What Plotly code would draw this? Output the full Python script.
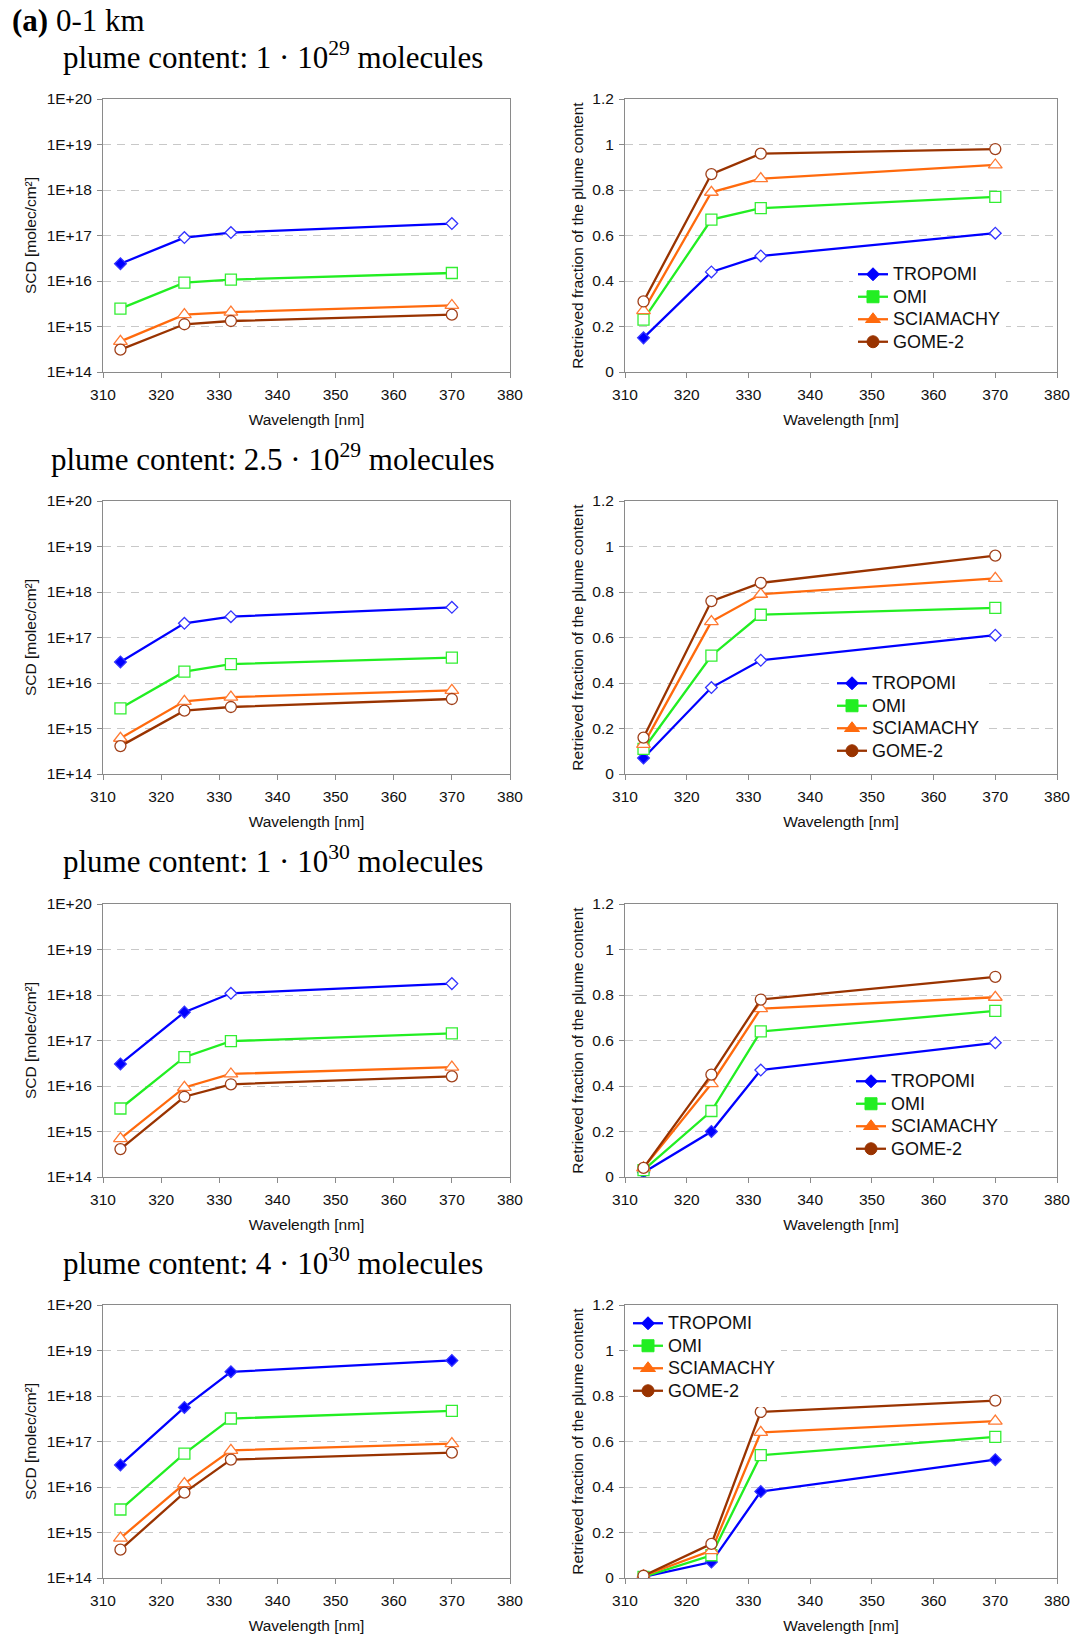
import plotly.graph_objects as go

W, H = 1076, 1638

wavelength = [313, 324, 332, 370]
series = ["TROPOMI", "OMI", "SCIAMACHY", "GOME-2"]
colors = {"TROPOMI": "#0000FF", "OMI": "#22EE22", "SCIAMACHY": "#FF6A0D", "GOME-2": "#993300"}
outline = {"TROPOMI": "#3333FF", "OMI": "#33EE33", "SCIAMACHY": "#FF7A33", "GOME-2": "#A0401A"}
symbols = {"TROPOMI": "diamond", "OMI": "square", "SCIAMACHY": "triangle-up", "GOME-2": "circle"}
sizes = {"TROPOMI": 9, "OMI": 11, "SCIAMACHY": 12, "GOME-2": 11}

panel_titles = [
    "plume content: 1 · 10<sup>29</sup> molecules",
    "plume content: 2.5 · 10<sup>29</sup> molecules",
    "plume content: 1 · 10<sup>30</sup> molecules",
    "plume content: 4 · 10<sup>30</sup> molecules",
]

# SCD [molec/cm2] per panel
scd_tropomi = [
    [2.4e16, 9.0e16, 1.16e17, 1.83e17],
    [2.9e16, 2.05e17, 2.87e17, 4.6e17],
    [3.05e16, 4.2e17, 1.09e18, 1.78e18],
    [3.06e16, 5.6e17, 3.4e18, 6.05e18],
]
scd_omi = [
    [2.47e15, 9.2e15, 1.07e16, 1.5e16],
    [2.77e15, 1.77e16, 2.6e16, 3.6e16],
    [3.2e15, 4.3e16, 9.7e16, 1.43e17],
    [3.2e15, 5.4e16, 3.2e17, 4.7e17],
]
scd_sciamachy = [
    [4.7e14, 1.82e15, 2.08e15, 2.9e15],
    [6.1e14, 3.95e15, 4.9e15, 6.9e15],
    [7.0e14, 9.3e15, 1.84e16, 2.6e16],
    [7.5e14, 1.19e16, 6.4e16, 9.0e16],
]
scd_gome2 = [
    [3.1e14, 1.12e15, 1.32e15, 1.82e15],
    [4.1e14, 2.47e15, 2.97e15, 4.45e15],
    [4.1e14, 5.8e15, 1.09e16, 1.63e16],
    [4.2e14, 7.5e15, 4.0e16, 5.7e16],
]

# Retrieved fraction of the plume content per panel
frac_tropomi = [
    [0.15, 0.44, 0.51, 0.61],
    [0.07, 0.38, 0.50, 0.61],
    [0.02, 0.20, 0.47, 0.59],
    [0.005, 0.07, 0.38, 0.52],
]
frac_omi = [
    [0.23, 0.67, 0.72, 0.77],
    [0.11, 0.52, 0.70, 0.73],
    [0.03, 0.29, 0.64, 0.73],
    [0.005, 0.10, 0.54, 0.62],
]
frac_sciamachy = [
    [0.27, 0.79, 0.85, 0.91],
    [0.13, 0.67, 0.79, 0.86],
    [0.04, 0.41, 0.74, 0.79],
    [0.01, 0.12, 0.64, 0.69],
]
frac_gome2 = [
    [0.31, 0.87, 0.96, 0.98],
    [0.16, 0.76, 0.84, 0.96],
    [0.04, 0.45, 0.78, 0.88],
    [0.01, 0.15, 0.73, 0.78],
]

# which TROPOMI points are drawn with filled markers
tropomi_filled = [
    [True, False, False, False],
    [True, False, False, False],
    [True, True, False, False],
    [True, True, True, True],
]

log_tickvals = [1e14, 1e15, 1e16, 1e17, 1e18, 1e19, 1e20]
log_ticktext = ["1E+14", "1E+15", "1E+16", "1E+17", "1E+18", "1E+19", "1E+20"]
x_ticks = [310, 320, 330, 340, 350, 360, 370, 380]

scd = {"TROPOMI": scd_tropomi, "OMI": scd_omi, "SCIAMACHY": scd_sciamachy, "GOME-2": scd_gome2}
frac = {"TROPOMI": frac_tropomi, "OMI": frac_omi, "SCIAMACHY": frac_sciamachy, "GOME-2": frac_gome2}

# ---------- layout geometry (page pixels) ----------
left_x = (103, 510)
right_x = (625, 1057)
tops = [99, 501, 904, 1305]
ph = 273
legend_pos = [(853, 258), (832, 667), (851, 1065), (628, 1307)]
title_y = [56, 457, 859, 1261]


def px_x(v):
    return v / W


def px_y(v):
    return 1 - v / H


fig = go.Figure()

SANS = "Liberation Sans, Arial, sans-serif"
SERIF = "Liberation Serif, Times New Roman, serif"
tickfont = dict(family=SANS, size=15.5, color="#111")
titlefont = dict(family=SANS, size=15.5, color="#111")
axis_common = dict(
    showline=True, linecolor="#8a8a8a", linewidth=1, mirror=True,
    ticks="outside", ticklen=5, tickcolor="#8a8a8a",
    tickfont=tickfont, automargin=False,
)

layout = dict(
    width=W, height=H, margin=dict(l=0, r=0, t=0, b=0),
    paper_bgcolor="white", plot_bgcolor="white", showlegend=True,
)

for p in range(4):
    li = 2 * p + 1
    ri = 2 * p + 2
    ydom = [px_y(tops[p] + ph), px_y(tops[p])]
    for idx, xr in ((li, left_x), (ri, right_x)):
        layout[f"xaxis{idx}"] = dict(
            domain=[px_x(xr[0]), px_x(xr[1])], anchor=f"y{idx}",
            range=[310, 380], tickvals=x_ticks, showgrid=False, zeroline=False,
            ticklabelstandoff=3,
            title=dict(text="Wavelength [nm]", font=titlefont, standoff=12),
            **axis_common,
        )
    layout[f"yaxis{li}"] = dict(
        domain=ydom, anchor=f"x{li}", type="log", range=[14, 20],
        tickvals=log_tickvals, ticktext=log_ticktext, ticklabelstandoff=2,
        showgrid=True, gridcolor="#c8c8c8", griddash="8px,6px", gridwidth=1, zeroline=False,
        title=dict(text="SCD [molec/cm²]", font=titlefont, standoff=6),
        **axis_common,
    )
    layout[f"yaxis{ri}"] = dict(
        domain=ydom, anchor=f"x{ri}", range=[0, 1.2], dtick=0.2, tick0=0, ticklabelstandoff=2,
        showgrid=True, gridcolor="#c8c8c8", griddash="8px,6px", gridwidth=1, zeroline=False,
        title=dict(text="Retrieved fraction of the plume content", font=titlefont, standoff=4),
        **axis_common,
    )
    lg = "legend" if p == 0 else f"legend{p + 1}"
    layout[lg] = dict(
        x=px_x(legend_pos[p][0]), y=px_y(legend_pos[p][1]), xanchor="left", yanchor="top",
        bgcolor="white", borderwidth=0, font=dict(family=SANS, size=15, color="#111"),
        tracegroupgap=0, itemwidth=30,
    )

    for s in series:
        if s == "TROPOMI":
            fills = [colors[s] if f else "white" for f in tropomi_filled[p]]
        else:
            fills = ["white"] * 4
        mk = dict(symbol=symbols[s], size=sizes[s], color=fills,
                  line=dict(color=outline[s], width=1.3))
        ln = dict(color=colors[s], width=2.3)
        fig.add_trace(go.Scatter(x=wavelength, y=scd[s][p], mode="lines+markers",
                                 marker=mk, line=ln, showlegend=False,
                                 xaxis=f"x{li}", yaxis=f"y{li}", name=s))
        fig.add_trace(go.Scatter(x=wavelength, y=frac[s][p], mode="lines+markers",
                                 marker=mk, line=ln, showlegend=False,
                                 xaxis=f"x{ri}", yaxis=f"y{ri}", name=s))
    # legend entries (filled symbols)
    for s in series:
        fig.add_trace(go.Scatter(x=[None], y=[None], mode="lines+markers",
                                 name=f"<span style='font-size:18px'>{s}</span>",
                                 marker=dict(symbol=symbols[s], size=sizes[s] + 1, color=colors[s],
                                             line=dict(color=colors[s], width=1)),
                                 line=dict(color=colors[s], width=2.3),
                                 xaxis=f"x{ri}", yaxis=f"y{ri}", legend=lg, showlegend=True))

annotations = [
    dict(text="<b>(a)</b> 0-1 km", x=px_x(10), y=px_y(21), xref="paper", yref="paper",
         xanchor="left", yanchor="middle", showarrow=False,
         font=dict(family=SERIF, size=31, color="#000")),
]
for p in range(4):
    annotations.append(dict(text=panel_titles[p], x=px_x(273), y=px_y(title_y[p]),
                            xref="paper", yref="paper", xanchor="center", yanchor="middle",
                            showarrow=False, font=dict(family=SERIF, size=31, color="#000")))
layout["annotations"] = annotations

fig.update_layout(**layout)
# remove the default 8px page margin so the figure fills the window exactly
fig.write_html("out.html", config={"displayModeBar": False},
               post_script="document.body.style.margin='0';")
